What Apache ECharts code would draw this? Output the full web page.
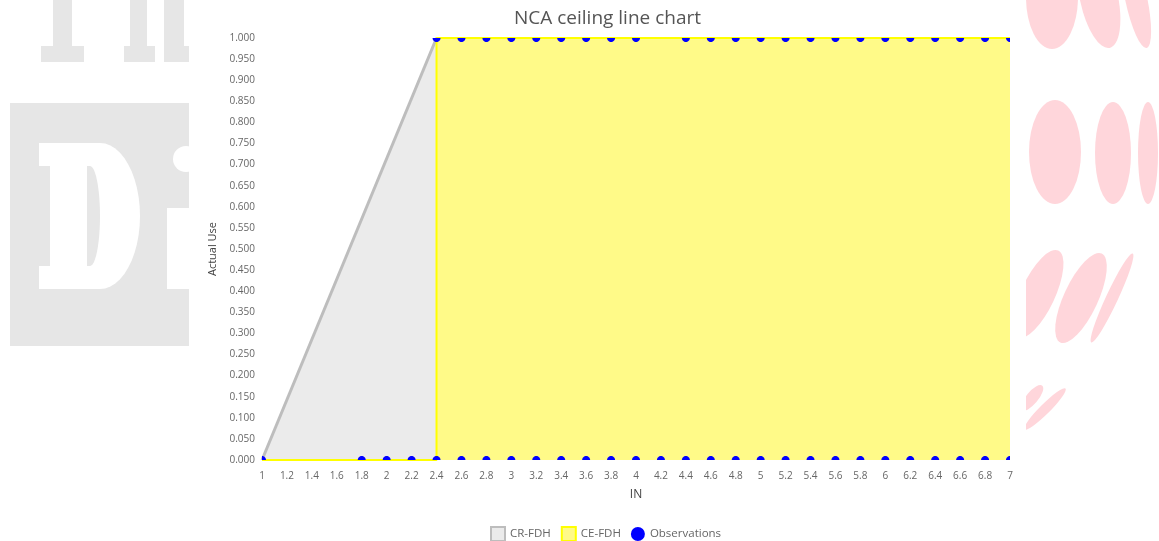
<!DOCTYPE html>
<html>
<head>
<meta charset="utf-8">
<title>NCA ceiling line chart</title>
<script src="https://cdn.jsdelivr.net/npm/echarts@6/dist/echarts.min.js"></script>
<style>
  html, body { margin: 0; padding: 0; background: #fff; }
  #chart { width: 1159px; height: 541px; }
</style>
</head>
<body>
<div id="chart"></div>
<script>
// Ceiling lines and observed points
const crFdh = [[1, 0], [2.4, 1]];
const ceFdh = [[1, 0], [2.4, 0], [2.4, 1], [7, 1]];
const obsAtZero = [1, 1.8, 2, 2.2, 2.4, 2.6, 2.8, 3, 3.2, 3.4, 3.6, 3.8, 4, 4.2, 4.4, 4.6, 4.8,
                   5, 5.2, 5.4, 5.6, 5.8, 6, 6.2, 6.4, 6.6, 6.8, 7];
const obsAtOne = [2.4, 2.6, 2.8, 3, 3.2, 3.4, 3.6, 3.8, 4, 4.4, 4.6, 4.8,
                  5, 5.2, 5.4, 5.6, 5.8, 6, 6.2, 6.4, 6.6, 6.8, 7];
const observations = obsAtZero.map(x => [x, 0]).concat(obsAtOne.map(x => [x, 1]));

const FONT = 'Open Sans';
const GRAY_FILL = '#EBEBEB', GRAY_LINE = '#BDBDBD';
const YEL_FILL = '#FFFA88', YEL_LINE = '#FFFF00';
const BLUE = '#0000FF';
const WM_GRAY = '#E6E6E6', WM_PINK = '#FFD6DB';

// Page backdrop: faint lettering on the left, pink ovals on the right
function oval(cx, cy, rx, ry, deg) {
  return { type: 'circle', x: cx, y: cy, scaleX: rx / ry, scaleY: 1,
           rotation: deg * Math.PI / 180, z: -20,
           shape: { cx: 0, cy: 0, r: ry }, style: { fill: WM_PINK }, silent: true };
}
function box(x, y, w, h, fill, z) {
  return { type: 'rect', z: z, shape: { x: x, y: y, width: w, height: h },
           style: { fill: fill }, silent: true };
}
// a "D" outline: straight left side, half-oval bowl on the right
function dShape(x0, xs, y0, y1, xr, fill, z) {
  const cy = (y0 + y1) / 2, ry = (y1 - y0) / 2, rx = xr - xs;
  const pts = [[x0, y0]];
  for (let i = 0; i <= 24; i++) {
    const a = -Math.PI / 2 + Math.PI * i / 24;
    pts.push([xs + rx * Math.cos(a), cy + ry * Math.sin(a)]);
  }
  pts.push([x0, y1]);
  return { type: 'polygon', z: z, silent: true, shape: { points: pts }, style: { fill: fill } };
}
const backdrop = [
  box(53, 0, 19, 46, WM_GRAY, -20), box(41, 46, 43, 16, WM_GRAY, -20),
  box(130, 0, 17, 46, WM_GRAY, -20), box(124, 46, 31, 16, WM_GRAY, -20),
  box(164, 0, 20, 46, WM_GRAY, -20), box(164, 46, 30, 16, WM_GRAY, -20),
  box(10, 103, 185, 243, WM_GRAY, -20),
  dShape(50, 100, 143, 289, 140, '#fff', -19),
  box(39, 143, 12, 23, '#fff', -19), box(39, 266, 12, 23, '#fff', -19),
  dShape(87, 90, 166, 266, 100, WM_GRAY, -18),
  { type: 'circle', z: -19, silent: true, shape: { cx: 186, cy: 159, r: 13 }, style: { fill: '#fff' } },
  box(167, 208, 30, 81, '#fff', -19),
  oval(1052, -3, 26, 52, 0), oval(1099, -2, 19, 51, 12), oval(1136, -2, 11, 51, 12),
  oval(1055, 152, 26, 52, 0), oval(1113, 153, 18, 51, 0), oval(1148, 153, 10, 51, 0),
  oval(1038, 294, 17, 48, -25), oval(1081, 298, 17, 49, -25), oval(1112, 298, 6, 49, -25),
  oval(1032, 398, 6, 16, -40), oval(1045, 409, 5, 29, -45),
  // white panel behind the chart
  box(189, 0, 837, 541, '#fff', -10)
];

const chart = echarts.init(document.getElementById('chart'), null, { renderer: 'canvas' });

chart.setOption({
  backgroundColor: '#fff',
  animation: false,
  textStyle: { fontFamily: FONT },
  graphic: { elements: backdrop },
  title: {
    text: 'NCA ceiling line chart',
    left: 602.5, top: 4, textAlign: 'center',
    textStyle: { fontFamily: FONT, fontSize: 19, fontWeight: 'normal', color: '#555' }
  },
  legend: {
    left: 485, top: 521,
    itemWidth: 14, itemHeight: 14, itemGap: 10,
    textStyle: { fontFamily: FONT, fontSize: 11.5, color: '#666' },
    data: [
      { name: 'CR-FDH', icon: 'rect', itemStyle: { color: GRAY_FILL, borderColor: GRAY_LINE, borderWidth: 2 } },
      { name: 'CE-FDH', icon: 'rect', itemStyle: { color: YEL_FILL, borderColor: YEL_LINE, borderWidth: 2 } },
      { name: 'Observations', icon: 'circle', itemStyle: { color: BLUE } }
    ]
  },
  grid: { left: 262, right: 149, top: 38, bottom: 81, containLabel: false },
  xAxis: {
    type: 'value', min: 1, max: 7, interval: 0.2,
    name: 'IN', nameLocation: 'middle', nameGap: 29,
    nameTextStyle: { fontFamily: FONT, fontSize: 12, color: '#444' },
    axisLine: { show: false }, axisTick: { show: false }, splitLine: { show: false },
    axisLabel: { fontFamily: FONT, fontSize: 10, color: '#666', margin: 11,
                 formatter: v => String(Math.round(v * 10) / 10) }
  },
  yAxis: {
    type: 'value', min: 0, max: 1, interval: 0.05,
    name: 'Actual Use', nameLocation: 'middle', nameGap: 37,
    nameTextStyle: { fontFamily: FONT, fontSize: 11, color: '#444' },
    axisLine: { show: false }, axisTick: { show: false }, splitLine: { show: false },
    axisLabel: { fontFamily: FONT, fontSize: 10, color: '#666', margin: 7,
                 formatter: v => v.toFixed(3) }
  },
  series: [
    {
      name: 'CR-FDH', type: 'line', data: crFdh, symbol: 'none', z: 2,
      lineStyle: { color: GRAY_LINE, width: 3 },
      itemStyle: { color: GRAY_FILL },
      areaStyle: { color: GRAY_FILL, opacity: 1, origin: 'start' }
    },
    {
      name: 'CE-FDH', type: 'line', data: ceFdh, symbol: 'none', z: 3,
      lineStyle: { color: YEL_LINE, width: 2 },
      itemStyle: { color: YEL_FILL },
      areaStyle: { color: YEL_FILL, opacity: 1, origin: 'start' }
    },
    {
      name: 'Observations', type: 'custom', coordinateSystem: 'cartesian2d', clip: true, z: 5,
      data: observations,
      encode: { x: 0, y: 1 },
      itemStyle: { color: BLUE },
      // dots are cut off at the edges of the plot area
      renderItem: function (params, api) {
        const p = api.coord([api.value(0), api.value(1)]);
        const cs = params.coordSys, r = 4;
        const pts = [];
        for (let i = 0; i < 32; i++) {
          const a = Math.PI * 2 * i / 32;
          pts.push([
            Math.min(Math.max(p[0] + r * Math.cos(a), cs.x), cs.x + cs.width),
            Math.min(Math.max(p[1] + r * Math.sin(a), cs.y), cs.y + cs.height)
          ]);
        }
        return { type: 'polygon', shape: { points: pts }, style: { fill: BLUE } };
      }
    }
  ]
});
</script>
</body>
</html>
